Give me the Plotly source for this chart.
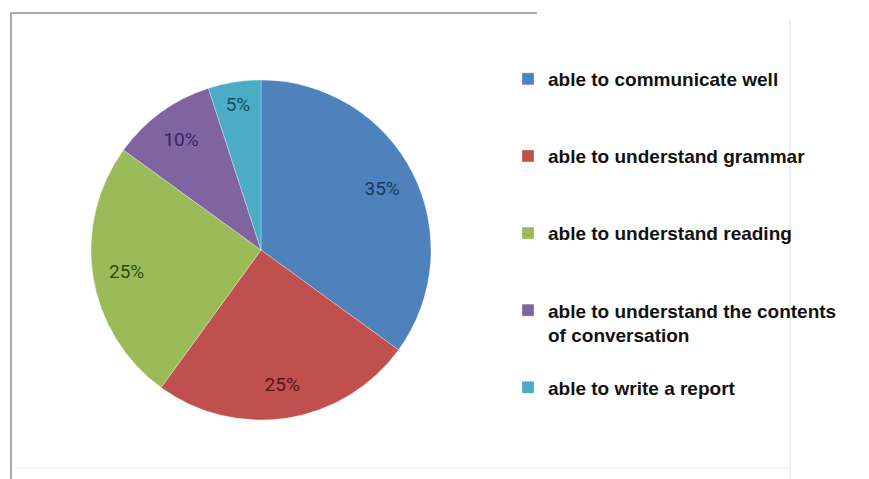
import plotly.graph_objects as go

W, H = 869, 479

labels = [
    "able to communicate well",
    "able to understand grammar",
    "able to understand reading",
    "able to understand the contents<br>of conversation",
    "able to write a report",
]
values = [35, 25, 25, 10, 5]
slice_colors = ["#4F81BD", "#C0504D", "#9BBB59", "#8064A2", "#4BACC6"]
text_colors = ["#17375E", "#5A1414", "#2E4A12", "#3A2461", "#134F5C"]
legend_pad = ["<br> <br> ", "<br> <br> ", "<br> <br> ", "<br> ", ""]

legend_labels = [l + p for l, p in zip(labels, legend_pad)]

cx, cy, r = 261, 250, 170
dom = dict(x=[(cx - r) / W, (cx + r) / W], y=[(H - cy - r) / H, (H - cy + r) / H])

fig = go.Figure()
# the pie itself (colours + legend)
fig.add_trace(go.Pie(
    labels=legend_labels,
    values=values,
    sort=False,
    direction="clockwise",
    rotation=0,
    marker=dict(colors=slice_colors, line=dict(color="rgba(255,255,255,0.3)", width=1)),
    textinfo="none",
    domain=dom,
    hoverinfo="label+percent",
))
# same data, ring layer used only to place the percentage labels further out
fig.add_trace(go.Pie(
    labels=legend_labels,
    values=values,
    sort=False,
    direction="clockwise",
    rotation=0,
    hole=0.6,
    marker=dict(colors=["rgba(0,0,0,0)"] * len(values), line=dict(width=0)),
    texttemplate="%{percent:.0%}",
    textposition="inside",
    insidetextorientation="horizontal",
    textfont=dict(family="Liberation Sans Narrow, Roboto, sans-serif", size=19, color=text_colors),
    domain=dom,
    showlegend=False,
    hoverinfo="skip",
))

def px(x):
    return x / W

def py(y):
    return 1 - y / H

shapes = [
    dict(type="line", xref="paper", yref="paper", x0=px(10), x1=px(537), y0=py(13), y1=py(13),
         line=dict(color="#AAAAAA", width=2)),
    dict(type="line", xref="paper", yref="paper", x0=px(11), x1=px(11), y0=py(13), y1=py(479),
         line=dict(color="#AAAAAA", width=2)),
    dict(type="line", xref="paper", yref="paper", x0=px(790), x1=px(790), y0=py(20), y1=py(479),
         line=dict(color="#E2E2E2", width=1)),
    dict(type="line", xref="paper", yref="paper", x0=px(15), x1=px(790), y0=py(468), y1=py(468),
         line=dict(color="#EEEEEE", width=1)),
]

fig.update_layout(
    width=W, height=H,
    margin=dict(l=0, r=0, t=0, b=0),
    paper_bgcolor="white",
    plot_bgcolor="white",
    shapes=shapes,
    showlegend=True,
    legend=dict(
        x=px(508), y=py(60), xanchor="left", yanchor="top",
        font=dict(family="Liberation Sans, Arial, sans-serif", size=19, color="#111111", weight="bold"),
        valign="top",
        bgcolor="rgba(0,0,0,0)",
        traceorder="normal",
    ),
)

fig.write_html("out.html")
